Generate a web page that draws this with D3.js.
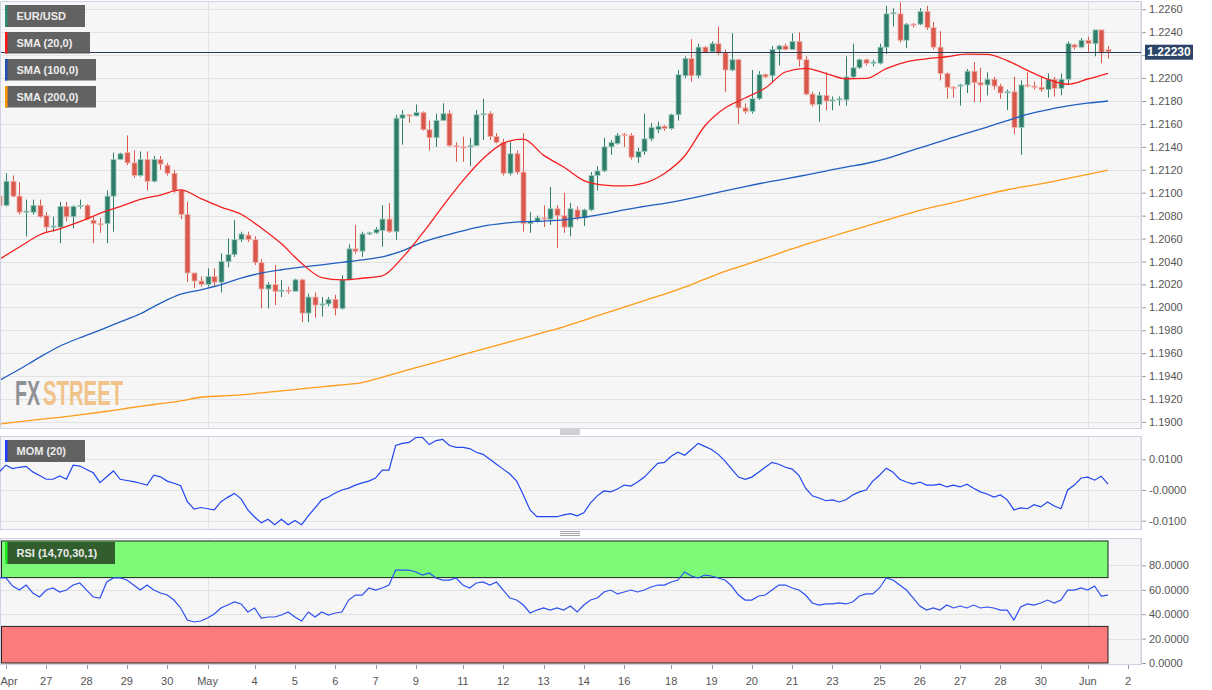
<!DOCTYPE html>
<html>
<head>
<meta charset="utf-8">
<script src="https://cdn.jsdelivr.net/npm/d3@7"></script>
<style>
  body { margin: 0; background: #fff; }
  svg text { font-family: "Liberation Sans", Arial, sans-serif; }
</style>
</head>
<body>
<div id="chart"></div>
<script>
// ---- data ----
// one row per candle: [open, high, low, close]
const ohlc = [
  [1.2097,1.2099,1.2086,1.2089],[1.2089,1.2117,1.2088,1.2110],[1.2110,1.2115,1.2096,1.2097],[1.2097,1.2109,1.2081,1.2083],
  [1.2083,1.2094,1.2062,1.2084],[1.2083,1.2094,1.2081,1.2089],[1.2089,1.2094,1.2078,1.2079],[1.2080,1.2083,1.2065,1.2070],
  [1.2070,1.2079,1.2066,1.2071],[1.2070,1.2092,1.2056,1.2088],[1.2088,1.2092,1.2075,1.2079],[1.2079,1.2089,1.2069,1.2088],
  [1.2088,1.2094,1.2086,1.2089],[1.2089,1.2090,1.2076,1.2077],[1.2076,1.2079,1.2056,1.2073],[1.2073,1.2078,1.2065,1.2072],
  [1.2073,1.2102,1.2056,1.2097],[1.2097,1.2135,1.2066,1.2129],[1.2129,1.2135,1.2129,1.2134],[1.2135,1.2150,1.2124,1.2126],
  [1.2126,1.2137,1.2113,1.2115],[1.2115,1.2136,1.2114,1.2129],[1.2129,1.2136,1.2102,1.2110],[1.2110,1.2132,1.2109,1.2129],
  [1.2129,1.2132,1.2120,1.2125],[1.2124,1.2126,1.2115,1.2117],[1.2117,1.2120,1.2100,1.2102],[1.2102,1.2103,1.2077,1.2081],
  [1.2081,1.2092,1.2022,1.2030],[1.2030,1.2030,1.2017,1.2023],[1.2023,1.2027,1.2018,1.2020],[1.2020,1.2034,1.2018,1.2027],
  [1.2027,1.2034,1.2018,1.2022],[1.2022,1.2047,1.2013,1.2040],[1.2040,1.2060,1.2035,1.2046],[1.2046,1.2076,1.2044,1.2059],
  [1.2059,1.2066,1.2057,1.2064],[1.2063,1.2066,1.2057,1.2059],[1.2059,1.2062,1.2037,1.2039],[1.2039,1.2042,1.1999,1.2016],
  [1.2016,1.2022,1.1999,1.2020],[1.2020,1.2037,1.2002,1.2014],[1.2014,1.2024,1.2009,1.2015],[1.2015,1.2018,1.2012,1.2014],
  [1.2014,1.2025,1.2014,1.2024],[1.2024,1.2025,1.1987,1.1995],[1.1995,1.2012,1.1987,1.2009],[1.2009,1.2013,1.1991,1.2002],
  [1.2002,1.2009,1.1992,1.2003],[1.2003,1.2009,1.2001,1.2007],[1.2007,1.2011,1.1993,1.1999],[1.1999,1.2028,1.1998,1.2024],
  [1.2024,1.2055,1.2024,1.2051],[1.2051,1.2072,1.2047,1.2049],[1.2049,1.2066,1.2044,1.2064],[1.2064,1.2066,1.2063,1.2065],
  [1.2065,1.2070,1.2064,1.2068],[1.2067,1.2089,1.2053,1.2077],[1.2077,1.2091,1.2065,1.2066],[1.2066,1.2168,1.2059,1.2165],
  [1.2165,1.2172,1.2142,1.2168],[1.2168,1.2168,1.2161,1.2167],[1.2167,1.2177,1.2167,1.2170],[1.2170,1.2171,1.2154,1.2155],
  [1.2155,1.2163,1.2137,1.2148],[1.2148,1.2169,1.2140,1.2163],[1.2163,1.2178,1.2163,1.2169],[1.2169,1.2172,1.2140,1.2141],
  [1.2141,1.2144,1.2127,1.2140],[1.2140,1.2149,1.2127,1.2139],[1.2140,1.2148,1.2123,1.2141],[1.2141,1.2172,1.2141,1.2168],
  [1.2168,1.2182,1.2146,1.2169],[1.2169,1.2171,1.2146,1.2149],[1.2149,1.2152,1.2143,1.2144],[1.2144,1.2147,1.2115,1.2117],
  [1.2117,1.2144,1.2115,1.2134],[1.2134,1.2137,1.2116,1.2118],[1.2118,1.2152,1.2066,1.2073],[1.2073,1.2083,1.2065,1.2075],
  [1.2075,1.2080,1.2074,1.2078],[1.2078,1.2089,1.2070,1.2077],[1.2077,1.2105,1.2072,1.2086],[1.2086,1.2089,1.2052,1.2080],
  [1.2080,1.2100,1.2065,1.2070],[1.2070,1.2091,1.2062,1.2086],[1.2085,1.2088,1.2076,1.2078],[1.2078,1.2086,1.2071,1.2085],
  [1.2085,1.2118,1.2084,1.2115],[1.2115,1.2123,1.2102,1.2119],[1.2119,1.2148,1.2118,1.2140],[1.2140,1.2146,1.2133,1.2144],
  [1.2143,1.2152,1.2142,1.2150],[1.2151,1.2152,1.2140,1.2150],[1.2150,1.2152,1.2129,1.2131],[1.2131,1.2139,1.2126,1.2136],
  [1.2136,1.2169,1.2133,1.2147],[1.2147,1.2161,1.2145,1.2157],[1.2155,1.2162,1.2152,1.2158],[1.2158,1.2159,1.2154,1.2156],
  [1.2156,1.2169,1.2155,1.2168],[1.2168,1.2207,1.2163,1.2203],[1.2202,1.2219,1.2200,1.2217],[1.2217,1.2234,1.2197,1.2202],
  [1.2202,1.2230,1.2200,1.2227],[1.2227,1.2228,1.2222,1.2222],[1.2223,1.2232,1.2222,1.2230],[1.2230,1.2245,1.2220,1.2222],
  [1.2222,1.2225,1.2188,1.2207],[1.2207,1.2239,1.2206,1.2216],[1.2216,1.2217,1.2160,1.2174],[1.2174,1.2178,1.2169,1.2171],
  [1.2171,1.2207,1.2169,1.2182],[1.2182,1.2206,1.2181,1.2203],[1.2203,1.2204,1.2200,1.2201],[1.2202,1.2228,1.2196,1.2225],
  [1.2225,1.2229,1.2211,1.2228],[1.2228,1.2230,1.2224,1.2225],[1.2225,1.2239,1.2225,1.2232],[1.2232,1.2240,1.2210,1.2216],
  [1.2216,1.2219,1.2185,1.2186],[1.2186,1.2188,1.2175,1.2177],[1.2177,1.2188,1.2162,1.2185],[1.2185,1.2205,1.2172,1.2180],
  [1.2180,1.2184,1.2172,1.2181],[1.2181,1.2184,1.2176,1.2182],[1.2181,1.2219,1.2176,1.2201],[1.2201,1.2230,1.2200,1.2209],
  [1.2209,1.2217,1.2208,1.2216],[1.2216,1.2217,1.2211,1.2213],[1.2213,1.2216,1.2210,1.2214],[1.2213,1.2230,1.2212,1.2227],
  [1.2227,1.2263,1.2221,1.2256],[1.2256,1.2261,1.2245,1.2257],[1.2256,1.2266,1.2231,1.2233],[1.2233,1.2248,1.2226,1.2247],
  [1.2247,1.2248,1.2244,1.2246],[1.2247,1.2261,1.2246,1.2258],[1.2258,1.2263,1.2242,1.2244],[1.2244,1.2249,1.2225,1.2227],
  [1.2227,1.2241,1.2198,1.2204],[1.2204,1.2205,1.2182,1.2192],[1.2192,1.2193,1.2183,1.2191],[1.2193,1.2195,1.2176,1.2194],
  [1.2194,1.2208,1.2187,1.2206],[1.2206,1.2214,1.2179,1.2196],[1.2196,1.2209,1.2179,1.2194],[1.2194,1.2205,1.2185,1.2199],
  [1.2199,1.2201,1.2190,1.2193],[1.2193,1.2195,1.2182,1.2187],[1.2187,1.2190,1.2172,1.2188],[1.2188,1.2201,1.2151,1.2157],
  [1.2157,1.2198,1.2133,1.2194],[1.2194,1.2205,1.2192,1.2193],[1.2193,1.2197,1.2190,1.2192],[1.2192,1.2201,1.2188,1.2190],
  [1.2190,1.2204,1.2183,1.2199],[1.2199,1.2201,1.2184,1.2191],[1.2191,1.2204,1.2185,1.2199],[1.2199,1.2232,1.2194,1.2230],
  [1.2229,1.2230,1.2225,1.2227],[1.2227,1.2235,1.2226,1.2233],[1.2233,1.2236,1.2223,1.2230],[1.2230,1.2242,1.2219,1.2242],
  [1.2242,1.2242,1.2213,1.2222],[1.2225,1.2228,1.2217,1.2223]
];
const lastPrice = 1.22230;

// day labels on the time axis (candle index of the first bar of that day)
const dayIdx    = [1, 7, 13, 19, 25, 31, 38, 44, 50, 56, 62, 69, 75, 81, 87, 93, 100, 106, 112, 118, 124, 131, 137, 143, 149, 155, 162, 168];
const dayLabels = ["Apr","27","28","29","30","May","4","5","6","7","9","11","12","13","14","16","18","19","20","21","23","25","26","27","28","30","Jun","2"];
const monthIdx  = [31, 162];

const priceTicks = [1.1900,1.1920,1.1940,1.1960,1.1980,1.2000,1.2020,1.2040,1.2060,1.2080,1.2100,1.2120,1.2140,1.2160,1.2180,1.2200,1.2220,1.2240,1.2260];
const momTicks = [-0.01, 0, 0.01];
const momTickLabels = ["-0.0100", "-0.0000", "0.0100"];
const rsiTicks = [0, 20, 40, 60, 80];

// moving averages, one value every 3 candles
const smaStep = 3;
const sma20 = [1.20419,1.20526,1.20631,1.20685,1.20747,1.20820,1.20879,1.20941,1.20980,1.21024,1.20949,1.20875,1.20812,1.20692,
  1.20554,1.20384,1.20260,1.20239,1.20254,1.20275,1.20434,1.20647,1.20881,1.21106,1.21297,1.21431,1.21468,1.21328,1.21224,
  1.21106,1.21067,1.21059,1.21084,1.21168,1.21320,1.21582,1.21739,1.21826,1.21913,1.22053,1.22085,1.22042,1.21994,1.21997,
  1.22083,1.22142,1.22168,1.22186,1.22209,1.22206,1.22153,1.22068,1.21990,1.21946,1.21992,1.22042];
const sma100 = [1.19362,1.19460,1.19564,1.19661,1.19735,1.19802,1.19873,1.19944,1.20037,1.20115,1.20153,1.20198,1.20255,1.20299,
  1.20328,1.20351,1.20371,1.20393,1.20415,1.20441,1.20493,1.20570,1.20621,1.20668,1.20709,1.20733,1.20747,1.20753,1.20763,
  1.20786,1.20815,1.20851,1.20880,1.20908,1.20940,1.20976,1.21016,1.21054,1.21089,1.21120,1.21154,1.21189,1.21224,1.21255,
  1.21297,1.21354,1.21409,1.21466,1.21519,1.21573,1.21629,1.21684,1.21723,1.21757,1.21781,1.21800];
const sma200 = [1.18982,1.19003,1.19023,1.19041,1.19062,1.19085,1.19111,1.19137,1.19160,1.19184,1.19216,1.19227,1.19236,1.19254,
  1.19271,1.19289,1.19307,1.19324,1.19344,1.19390,1.19442,1.19490,1.19538,1.19587,1.19635,1.19684,1.19732,1.19781,1.19830,
  1.19887,1.19945,1.20002,1.20059,1.20116,1.20176,1.20246,1.20314,1.20371,1.20430,1.20491,1.20550,1.20602,1.20656,1.20708,
  1.20761,1.20813,1.20862,1.20901,1.20943,1.20986,1.21026,1.21057,1.21089,1.21124,1.21160,1.21198];

// MOM (20), one value per candle
const mom20 = [0.0059,0.0081,0.0070,0.0074,0.0077,0.0059,0.0047,0.0035,0.0035,0.0046,0.0035,0.0081,0.0078,0.0067,0.0056,0.0024,
  0.0043,0.0062,0.0035,0.0031,0.0027,0.0022,0.0016,0.0048,0.0043,0.0029,0.0022,0.0014,-0.0038,-0.0062,-0.0057,-0.0061,-0.0065,
  -0.0038,-0.0024,-0.0011,-0.0029,-0.0065,-0.0088,-0.0107,-0.0095,-0.0113,-0.0095,-0.0113,-0.0099,-0.0113,-0.0084,-0.0058,
  -0.0032,-0.0023,-0.0010,0.0000,0.0006,0.0016,0.0023,0.0029,0.0039,0.0065,0.0065,0.0145,0.0152,0.0155,0.0171,0.0171,0.0148,
  0.0161,0.0165,0.0145,0.0139,0.0139,0.0135,0.0123,0.0116,0.0100,0.0084,0.0068,0.0052,0.0029,-0.0016,-0.0065,-0.0087,-0.0087,
  -0.0087,-0.0087,-0.0081,-0.0077,-0.0084,-0.0074,-0.0042,-0.0019,-0.0003,-0.0006,0.0003,0.0016,0.0013,0.0026,0.0042,0.0065,
  0.0087,0.0090,0.0110,0.0123,0.0113,0.0132,0.0152,0.0142,0.0132,0.0116,0.0094,0.0068,0.0042,0.0035,0.0042,0.0058,0.0074,
  0.0090,0.0084,0.0074,0.0068,0.0048,0.0006,-0.0019,-0.0026,-0.0035,-0.0032,-0.0039,-0.0032,-0.0016,-0.0006,0.0000,0.0029,
  0.0048,0.0071,0.0058,0.0035,0.0026,0.0019,0.0026,0.0016,0.0016,0.0019,0.0010,0.0016,0.0010,0.0019,0.0006,-0.0006,-0.0013,
  -0.0023,-0.0016,-0.0032,-0.0065,-0.0058,-0.0061,-0.0048,-0.0055,-0.0039,-0.0052,-0.0061,0.0000,0.0016,0.0039,0.0042,0.0032,
  0.0045,0.0019];

// RSI (14), one value per candle
const rsi14 = [69.7,69.7,63.1,59.8,63.9,57.4,54.1,59.8,61.5,58.2,59.8,63.9,65.6,59.8,54.1,53.3,66.4,69.7,69.7,68.0,
  63.9,59.8,63.9,59.8,57.4,55.7,51.6,45.1,35.2,33.6,34.4,36.9,40.2,45.1,47.5,50.0,48.4,41.8,45.1,36.9,
  37.7,37.7,39.3,41.8,37.7,34.4,41.8,37.7,41.8,39.3,41.0,41.8,51.6,55.7,55.7,61.5,59.8,61.5,63.9,76.2,
  76.2,76.2,74.6,72.1,73.8,69.7,68.0,68.0,69.7,63.9,61.5,65.6,66.4,63.9,66.4,59.8,53.3,51.6,47.5,41.0,
  43.4,45.1,43.4,45.1,43.4,46.7,41.8,47.5,51.6,53.3,58.2,59.8,56.6,58.2,59.8,58.2,59.8,62.3,63.9,63.9,
  66.4,68.0,74.6,71.3,69.7,72.1,71.3,69.7,68.0,63.1,55.7,51.6,51.6,54.9,55.7,59.8,63.9,63.9,61.5,59.8,
  55.7,49.2,47.5,48.4,48.4,49.2,48.4,50.0,54.9,56.6,56.6,61.5,69.7,68.0,63.9,59.8,53.3,46.7,43.4,45.1,
  43.4,47.5,45.1,46.7,45.1,47.5,45.1,45.9,45.1,43.4,43.4,35.2,45.9,48.4,47.5,49.2,51.6,49.2,51.6,59.8,
  59.8,61.5,59.8,63.1,54.9,55.7];

// ---- layout ----
const W = 1212, H = 690;
const plotRight = 1141;
const mainP = {top: 1, bottom: 428};
const momP  = {top: 436, bottom: 529};
const rsiP  = {top: 538, bottom: 664};

const upColor = "#2e7e6a", upEdge = "#9ccabd";
const downColor = "#d9584b", downEdge = "#f1b2aa";
const gridColor = "#e2e2e2", frameColor = "#cdd3e3", labelColor = "#555";

const svg = d3.select("#chart").append("svg")
    .attr("width", W)
    .attr("height", H);

const x = d3.scaleLinear().domain([0, 165]).range([-0.8, 1108]);
const y = d3.scaleLinear().domain([1.19, 1.226]).range([422, 9.3]);
const yMom = d3.scaleLinear().domain([-0.01, 0.01]).range([520.7, 459.3]);
const yRsi = d3.scaleLinear().domain([0, 100]).range([663, 541]);

// panel backgrounds
[mainP, momP, rsiP].forEach(p => {
  svg.append("rect")
    .attr("x", 0.5).attr("y", p.top + 0.5)
    .attr("width", plotRight - 0.5).attr("height", p.bottom - p.top)
    .attr("fill", "#f6f6f6")
    .attr("stroke", frameColor);
});

// horizontal grid
function hGrid(vals, scale) {
  svg.append("g").selectAll("line").data(vals).join("line")
    .attr("x1", 1).attr("x2", plotRight)
    .attr("y1", d => Math.round(scale(d)) + 0.5)
    .attr("y2", d => Math.round(scale(d)) + 0.5)
    .attr("stroke", gridColor);
}
hGrid(priceTicks, y);
hGrid(momTicks, yMom);
hGrid(rsiTicks.filter(d => d > 0), yRsi);

// month separators
[mainP, momP, rsiP].forEach(p => {
  svg.append("g").selectAll("line").data(monthIdx).join("line")
    .attr("x1", d => Math.round(x(d)) + 0.5).attr("x2", d => Math.round(x(d)) + 0.5)
    .attr("y1", p.top + 1).attr("y2", p.bottom)
    .attr("stroke", gridColor);
});

// RSI zones
const rsiZones = svg.append("g");
rsiZones.append("rect")
  .attr("x", 1.5).attr("y", yRsi(100))
  .attr("width", x(165) - 1.5).attr("height", yRsi(70) - yRsi(100))
  .attr("fill", "#7dfb78").attr("stroke", "#222");
rsiZones.append("rect")
  .attr("x", 1.5).attr("y", yRsi(30))
  .attr("width", x(165) - 1.5).attr("height", yRsi(0) - yRsi(30))
  .attr("fill", "#fa7b7b").attr("stroke", "#222");

// watermark, squeezed horizontally like the condensed logo type
const wm = svg.append("g")
  .style("font-family", "'DejaVu Sans Condensed', 'Liberation Sans Narrow', sans-serif")
  .style("font-weight", "bold").style("font-size", "35px");
wm.append("text").attr("transform", "translate(15,405) scale(0.56,1)")
  .attr("fill", "#909195").text("FX");
wm.append("text").attr("transform", "translate(43,405) scale(0.58,1)")
  .attr("fill", "#f0c38b").text("STREET");

// main panel clip
svg.append("clipPath").attr("id", "clipMain")
  .append("rect").attr("x", 1).attr("y", mainP.top).attr("width", plotRight - 1).attr("height", mainP.bottom - mainP.top);

const gMain = svg.append("g").attr("clip-path", "url(#clipMain)");

// candles
const candles = gMain.append("g").selectAll("g").data(ohlc).join("g");
candles.append("line")
  .attr("x1", (d, i) => Math.round(x(i)) + 0.5)
  .attr("x2", (d, i) => Math.round(x(i)) + 0.5)
  .attr("y1", d => y(d[1]))
  .attr("y2", d => y(d[2]))
  .attr("stroke", d => d[3] >= d[0] ? upColor : downColor);
candles.append("rect")
  .attr("x", (d, i) => Math.round(x(i)) - 2)
  .attr("width", 5)
  .attr("y", d => y(Math.max(d[0], d[3])))
  .attr("height", d => Math.max(1, Math.abs(y(d[0]) - y(d[3]))))
  .attr("fill", d => d[3] >= d[0] ? upColor : downColor)
  .attr("stroke", d => d[3] >= d[0] ? upEdge : downEdge)
  .attr("stroke-width", 0.8);

// moving averages
function smaLine(vals, color) {
  gMain.append("path")
    .datum(vals)
    .attr("fill", "none")
    .attr("stroke", color)
    .attr("stroke-width", 1.3)
    .attr("d", d3.line().x((d, k) => x(k * smaStep)).y(d => y(d)).curve(d3.curveMonotoneX));
}
smaLine(sma200, "#ff9b19");
smaLine(sma100, "#1f5fbf");
smaLine(sma20, "#f51f1f");

// last price line
gMain.append("line")
  .attr("x1", 0).attr("x2", plotRight)
  .attr("y1", Math.round(y(lastPrice)) + 0.5).attr("y2", Math.round(y(lastPrice)) + 0.5)
  .attr("stroke", "#2b3b58");

// MOM line
svg.append("path")
  .datum(mom20)
  .attr("fill", "none").attr("stroke", "#2146f0").attr("stroke-width", 1.2)
  .attr("d", d3.line().x((d, i) => x(i)).y(d => yMom(d)));

// RSI line
svg.append("path")
  .datum(rsi14)
  .attr("fill", "none").attr("stroke", "#2d50f0").attr("stroke-width", 1.2)
  .attr("d", d3.line().x((d, i) => x(i)).y(d => yRsi(d)));

// right axes
function rightAxis(scale, vals, fmt) {
  const g = svg.append("g")
    .attr("transform", `translate(${plotRight},0)`)
    .call(d3.axisRight(scale).tickValues(vals).tickSize(5).tickPadding(3).tickFormat(fmt));
  g.select(".domain").remove();
  g.selectAll(".tick line").attr("stroke", "#9a9a9a");
  g.selectAll(".tick text").attr("fill", labelColor).style("font-size", "11px")
    .style("font-family", "'Liberation Sans', Arial, sans-serif");
}
// the price tag hides the label it sits on
const priceFmt = d3.format(".4f");
rightAxis(y, priceTicks, d => Math.abs(y(d) - y(lastPrice)) < 10 ? "" : priceFmt(d));
rightAxis(yMom, momTicks, (d, i) => momTickLabels[i]);
rightAxis(yRsi, rsiTicks, d3.format(".4f"));

// right frame line of the plot areas
[mainP, momP, rsiP].forEach(p => {
  svg.append("line")
    .attr("x1", plotRight + 0.5).attr("x2", plotRight + 0.5)
    .attr("y1", p.top).attr("y2", p.bottom + 1)
    .attr("stroke", frameColor);
});

// last price tag
svg.append("rect")
  .attr("x", plotRight + 4).attr("y", y(lastPrice) - 7)
  .attr("width", 48).attr("height", 15)
  .attr("fill", "#2b4468");
svg.append("text")
  .attr("x", plotRight + 28).attr("y", y(lastPrice) + 4.5)
  .attr("text-anchor", "middle")
  .attr("fill", "#fff").style("font-size", "12px").style("font-weight", "bold")
  .text(d3.format(".5f")(lastPrice));

// time axis
const xAxis = svg.append("g");
xAxis.selectAll("line").data(dayIdx).join("line")
  .attr("x1", d => Math.round(x(d)) + 0.5).attr("x2", d => Math.round(x(d)) + 0.5)
  .attr("y1", rsiP.bottom + 1).attr("y2", rsiP.bottom + 5)
  .attr("stroke", "#9a9a9a");
xAxis.selectAll("text").data(dayIdx).join("text")
  .attr("x", d => Math.max(x(d), 9))
  .attr("y", 685)
  .attr("text-anchor", "middle")
  .attr("fill", labelColor)
  .style("font-size", "11px")
  .text((d, i) => dayLabels[i]);

// panel separators (drag handles)
[432, 533.5].forEach(cy => {
  svg.append("g").selectAll("line").data([-2, 0, 2]).join("line")
    .attr("x1", 560).attr("x2", 580)
    .attr("y1", d => cy + d).attr("y2", d => cy + d)
    .attr("stroke", "#8a8a8a").attr("stroke-width", 0.8);
});

// legends
function legend(x0, y0, w, h, bar, label, bg) {
  const g = svg.append("g");
  g.append("rect").attr("x", x0).attr("y", y0).attr("width", w).attr("height", h)
    .attr("fill", bg);
  g.append("rect").attr("x", x0).attr("y", y0).attr("width", 2.5).attr("height", h)
    .attr("fill", bar);
  g.append("text").attr("x", x0 + 11.5).attr("y", y0 + h / 2 + 4)
    .attr("fill", "#ececec").style("font-size", "11px").style("font-weight", "bold")
    .text(label);
}
legend(5, 5, 80, 22, "#2e8b6f", "EUR/USD", "rgba(85,85,85,0.92)");
legend(5, 32, 85, 21.5, "#ff1a1a", "SMA (20,0)", "rgba(85,85,85,0.92)");
legend(5, 59, 91, 21.5, "#1f4fb5", "SMA (100,0)", "rgba(85,85,85,0.92)");
legend(5, 86, 91, 21.5, "#ff9800", "SMA (200,0)", "rgba(85,85,85,0.92)");
legend(5, 440, 80, 22, "#1f3cff", "MOM (20)", "rgba(85,85,85,0.92)");
legend(5, 542, 110, 22, "#22ee22", "RSI (14,70,30,1)", "rgba(45,85,40,0.95)");
</script>
</body>
</html>
